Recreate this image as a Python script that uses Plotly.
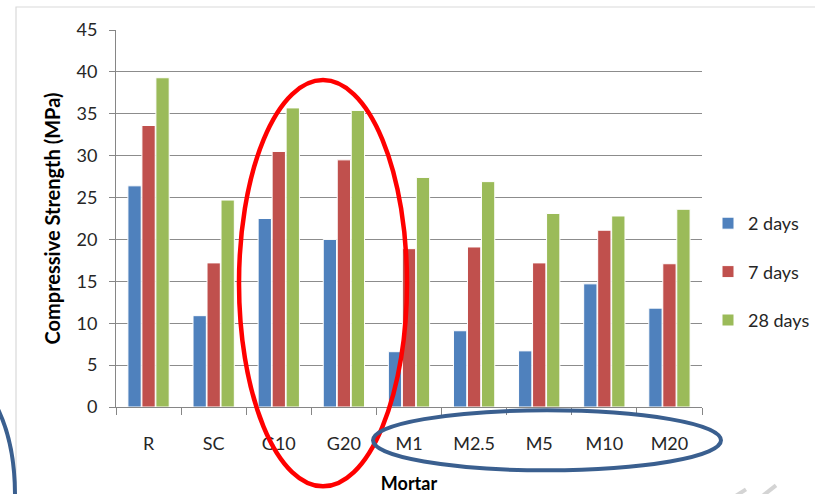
import plotly.graph_objects as go

# Mortar types and compressive strength (MPa) at each curing age
mortars = ["R", "SC", "G10", "G20", "M1", "M2.5", "M5", "M10", "M20"]
days_2 = [26.4, 10.9, 22.5, 20.0, 6.6, 9.1, 6.7, 14.7, 11.8]
days_7 = [33.6, 17.2, 30.5, 29.5, 18.9, 19.1, 17.2, 21.1, 17.1]
days_28 = [39.3, 24.7, 35.7, 35.4, 27.4, 26.9, 23.1, 22.8, 23.6]
series_names = ["2 days", "7 days", "28 days"]
series_colors = ["#4F81BD", "#C0504D", "#9BBB59"]

W, H = 815, 494
L, R, T, B = 116, 702, 30, 406.7  # plot area in pixels

def px(x):
    return (x - L) / (R - L)

def py(y):
    return (B - y) / (B - T)

FONT = "Lato, 'Open Sans', sans-serif"
TXT = "#262626"

fig = go.Figure()
for i, (name, vals, col) in enumerate(zip(series_names, [days_2, days_7, days_28], series_colors)):
    fig.add_trace(go.Bar(
        x=mortars, y=vals, name=name, legendgroup=name,
        marker=dict(color=col, line=dict(color="white", width=1)),
    ))

shapes = []
# outer chart frame (left and top edges)
shapes.append(dict(type="path", xref="paper", yref="paper",
                   path=f"M {px(16)} {py(500)} L {px(16)} {py(7)} L {px(820)} {py(7)}",
                   line=dict(color="#d9d9d9", width=1.2)))
# red highlight around G10 / G20
shapes.append(dict(type="circle", xref="paper", yref="paper",
                   x0=px(239), x1=px(407), y0=py(486), y1=py(80),
                   line=dict(color="#FF0000", width=4.5)))
# blue highlight around the M-series labels
shapes.append(dict(type="circle", xref="paper", yref="paper",
                   x0=px(373), x1=px(721), y0=py(470), y1=py(410),
                   line=dict(color="#3A5F8F", width=4)))
# partial blue ellipse at the lower left edge
shapes.append(dict(type="circle", xref="paper", yref="paper",
                   x0=px(-95), x1=px(15), y0=py(614), y1=py(376),
                   line=dict(color="#3A5F8F", width=4)))
# faint clip icons in the lower right corner
shapes.append(dict(type="path", xref="paper", yref="paper",
                   path=f"M {px(735)} {py(496)} L {px(746)} {py(489)}",
                   line=dict(color="#d4d4d4", width=4)))
shapes.append(dict(type="path", xref="paper", yref="paper",
                   path=f"M {px(762)} {py(496)} L {px(776)} {py(485)}",
                   line=dict(color="#d4d4d4", width=4)))

fig.update_layout(
    width=W, height=H,
    margin=dict(l=L, r=W - R, t=T, b=H - B, pad=0),
    paper_bgcolor="white", plot_bgcolor="white",
    font=dict(family=FONT, size=18, color=TXT),
    barmode="group", bargap=0.355, bargroupgap=0.05,
    showlegend=True,
    legend=dict(xref="container", yref="container",
                x=708 / W, y=1 - 205 / H, xanchor="left", yanchor="top",
                font=dict(family=FONT, size=18, color=TXT),
                tracegroupgap=22, itemwidth=30, bgcolor="rgba(0,0,0,0)"),
    shapes=shapes,
    xaxis=dict(
        automargin=False,
        showline=True, linecolor="#868686", linewidth=1,
        ticks="outside", ticklen=7, tickcolor="#868686", tickson="boundaries",
        ticklabelstandoff=20,
        tickfont=dict(family=FONT, size=18, color=TXT),
        title=dict(text="<b>Mortar</b>", font=dict(family=FONT, size=18, color="#000"), standoff=26),
    ),
    yaxis=dict(
        automargin=False,
        range=[0, 45], dtick=5,
        showgrid=True, gridcolor="#8c8c8c", gridwidth=1,
        showline=True, linecolor="#868686", linewidth=1,
        ticks="outside", ticklen=6, tickcolor="#868686",
        tickfont=dict(family=FONT, size=18, color=TXT),
        ticklabelstandoff=8,
        zeroline=False,
        title=dict(text="<b>Compressive Strength (MPa)</b>", font=dict(family=FONT, size=20, color="#000"), standoff=10),
    ),
)

fig.write_html("out.html")
